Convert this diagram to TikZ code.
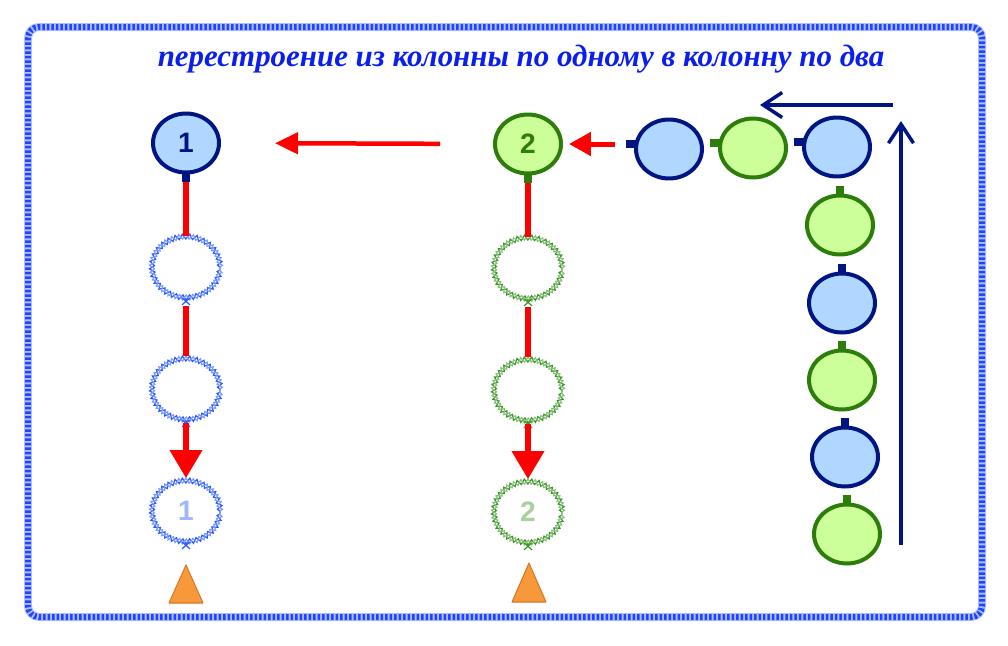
\documentclass[tikz,border=0pt]{standalone}
\usepackage{fontspec}
\usepackage{tikz}
\usetikzlibrary{positioning}
\usetikzlibrary{calc}
\usetikzlibrary{shapes.geometric}
\usetikzlibrary{arrows.meta}
\usetikzlibrary{decorations.pathmorphing}
\newfontfamily\titlefont{Liberation Serif}
\newfontfamily\numfont{Liberation Sans}
\definecolor{navy}{RGB}{0,20,130}
\definecolor{skyb}{RGB}{175,215,255}
\definecolor{leaf}{RGB}{45,125,10}
\definecolor{lime}{RGB}{204,255,153}
\definecolor{titleblue}{RGB}{10,30,240}
\definecolor{fblue}{RGB}{30,70,255}
\definecolor{gblue}{RGB}{40,90,255}
\definecolor{ggreen}{RGB}{60,150,40}
\definecolor{tri}{RGB}{247,152,58}
\definecolor{triedge}{RGB}{215,120,40}

\begin{document}
\begin{tikzpicture}[x=0.02cm, y=-0.02cm,
	bnode/.style={ellipse,draw=navy,fill=skyb,line width=0.08cm,minimum width=1.32cm,minimum height=1.18cm,inner sep=0pt,font=\numfont\bfseries\fontsize{16}{18}\selectfont,text=navy},
	gnode/.style={bnode,draw=leaf,fill=lime,text=leaf},
	ghost/.style={ellipse,minimum width=1.36cm,minimum height=1.22cm,inner sep=0pt,font=\numfont\bfseries\fontsize{16}{18}\selectfont},
	ghostb/.style={ghost,text=gblue!45,
		postaction={draw=gblue,line width=0.7pt,decorate,decoration={zigzag,segment length=0.14cm,amplitude=0.05cm}},
		postaction={draw=gblue!60,line width=0.7pt,decorate,decoration={zigzag,segment length=0.14cm,amplitude=-0.05cm}}},
	ghostg/.style={ghost,text=ggreen!45,
		postaction={draw=ggreen,line width=0.7pt,decorate,decoration={zigzag,segment length=0.14cm,amplitude=0.05cm}},
		postaction={draw=ggreen!60,line width=0.7pt,decorate,decoration={zigzag,segment length=0.14cm,amplitude=-0.05cm}}},
	redbar/.style={draw=red,line width=0.13cm},
	redarrow/.style={draw=red,line width=0.13cm,-{Triangle[width=0.62cm,length=0.56cm]}},
	leftarrow/.style={draw=red,line width=0.09cm,-{Triangle[width=0.42cm,length=0.46cm]}},
	navyarrow/.style={draw=navy,line width=0.07cm,-{Straight Barb[width=0.5cm,length=0.38cm]}},
	frame/.style={draw=fblue!35,line width=0.16cm,rounded corners=0.22cm,
		postaction={draw=fblue,line width=0.12cm,dash pattern=on 0.05cm off 0.04cm}},
	pyramid/.style={fill=tri,draw=triedge,line width=0.6pt,line join=round}]
	\useasboundingbox (0,0) rectangle (1008,646);
	\draw[frame] (28,27) rectangle (982,617);
	\node[text=titleblue,font=\titlefont\bfseries\itshape\fontsize{17.6}{19}\selectfont](title) at (521,59){перестроение из колонны по одному в колонну по два};

	% first column
	\node[bnode](n1) at (186,143){1};
	\node[ghostb](g1a) at (186,267){};
	\node[ghostb](g1b) at (186,389){};
	\node[ghostb](g1c) at (186,511){1};
	\draw[pyramid] (169,603) -- (203,603) -- (186,565) -- cycle;

	% second column
	\node[gnode](n2) at (528,144){2};
	\node[ghostg](g2a) at (528,268){};
	\node[ghostg](g2b) at (528,390){};
	\node[ghostg](g2c) at (528,512){2};
	\draw[pyramid] (512,602) -- (546,602) -- (529,563) -- cycle;

	% column on the right
	\node[bnode](r1) at (669,149){};
	\node[gnode](r2) at (753,148){};
	\node[bnode](r3) at (837,147){};
	\node[gnode](s1) at (840,225){};
	\node[bnode](s2) at (842,303){};
	\node[gnode](s3) at (842,380){};
	\node[bnode](s4) at (845,457){};
	\node[gnode](s5) at (847,534){};

	% tabs
	\fill[navy] ([xshift=-0.08cm,yshift=0.04cm]n1.south) rectangle ([xshift=0.08cm,yshift=-0.16cm]n1.south);
	\fill[leaf] ([xshift=-0.08cm,yshift=0.04cm]n2.south) rectangle ([xshift=0.08cm,yshift=-0.16cm]n2.south);
	\foreach \n/\c in {r1/navy,r2/leaf,r3/navy}
		\fill[\c] ([xshift=0.04cm,yshift=0.18cm]\n.west) rectangle ([xshift=-0.16cm,yshift=0.02cm]\n.west);
	\foreach \n/\c in {s1/leaf,s2/navy,s3/leaf,s4/navy,s5/leaf}
		\fill[\c] ([xshift=-0.08cm,yshift=-0.04cm]\n.north) rectangle ([xshift=0.08cm,yshift=0.16cm]\n.north);
	\foreach \g/\c in {g1a/gblue,g1b/gblue,g1c/gblue,g2a/ggreen,g2b/ggreen,g2c/ggreen}
		\draw[\c,line width=0.7pt] ([xshift=-0.08cm]\g.south) -- ++(8,7) ([xshift=0.08cm]\g.south) -- ++(-8,7);

	% connectors
	\draw[redbar,shorten <=0.16cm] (n1.south) -- (g1a.north);
	\draw[redbar,shorten <=0.16cm,shorten >=0.04cm] (g1a.south) -- (g1b.north);
	\draw[redarrow,shorten <=0.06cm,shorten >=0.04cm] (g1b.south) -- (g1c.north);
	\draw[redbar,shorten <=0.16cm] (n2.south) -- (g2a.north);
	\draw[redbar,shorten <=0.16cm,shorten >=0.04cm] (g2a.south) -- (g2b.north);
	\draw[redarrow,shorten <=0.06cm,shorten >=0.04cm] (g2b.south) -- (g2c.north);
	\draw[leftarrow,shorten <=1.06cm,shorten >=1.08cm] (n2.west) -- (n1.east);
	\draw[leftarrow,line width=0.1cm,-{Triangle[width=0.46cm,length=0.44cm]},shorten <=0.38cm,shorten >=0.12cm] (r1.west |- n2.east) -- (n2.east);

	\coordinate (hs) at (893,105);
	\coordinate (he) at (760,105);
	\coordinate (vs) at (901,545);
	\coordinate (ve) at (901,121);
	\draw[navyarrow] (hs) -- (he);
	\draw[navyarrow] (vs) -- (ve);
\end{tikzpicture}
\end{document}
